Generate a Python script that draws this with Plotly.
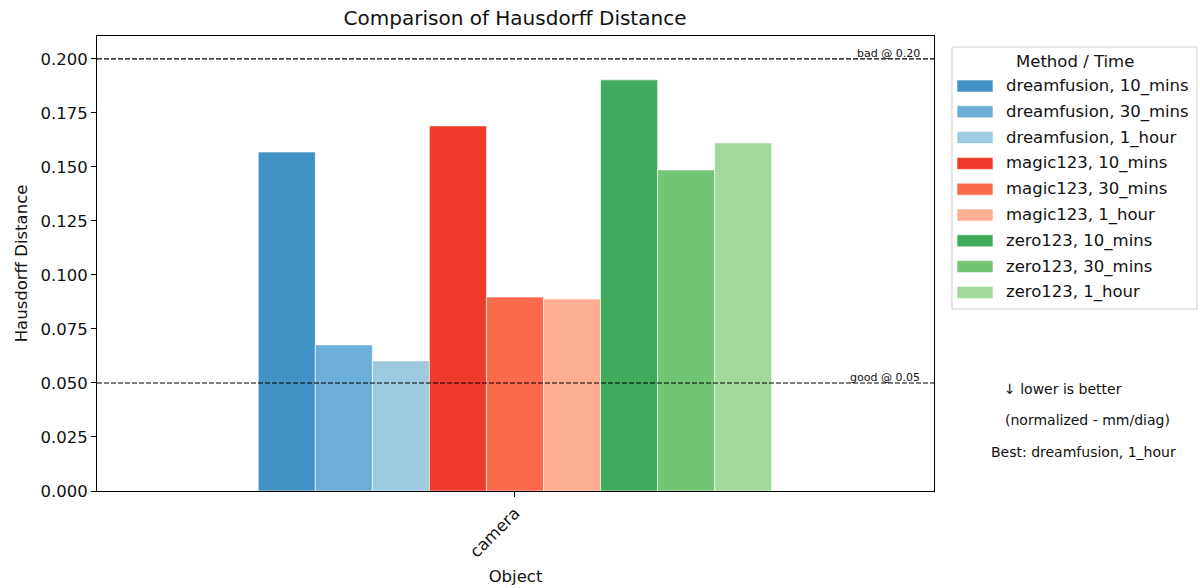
import plotly.graph_objects as go

# Data
objects = ["camera"]
series_names = [
    "dreamfusion, 10_mins", "dreamfusion, 30_mins", "dreamfusion, 1_hour",
    "magic123, 10_mins", "magic123, 30_mins", "magic123, 1_hour",
    "zero123, 10_mins", "zero123, 30_mins", "zero123, 1_hour",
]
hausdorff = [0.1569, 0.0676, 0.0602, 0.1690, 0.0898, 0.0889, 0.1903, 0.1486, 0.1611]
colors = [
    "#4292c6", "#6baed6", "#9ecae1",
    "#ef3b2c", "#fb6a4a", "#fcae91",
    "#41ab5d", "#74c476", "#a1d99b",
]
thresholds = [(0.20, "bad @ 0.20"), (0.05, "good @ 0.05")]
notes = ["↓ lower is better", "(normalized - mm/diag)", "Best: dreamfusion, 1_hour"]

FONT = "DejaVu Sans"
TXT = "#111"
W, H = 1200, 588
L, R, T, B = 97, 266, 36, 97

fig = go.Figure()
for name, val, col in zip(series_names, hausdorff, colors):
    fig.add_trace(go.Bar(
        x=objects, y=[val], name=name,
        marker=dict(color=col, line=dict(color="white", width=0.6)),
        showlegend=False,
    ))


def px_x(px):
    return (px - L) / (W - L - R)


def px_y(py):
    return 1 - (py - T) / (H - T - B)


# Reference lines with small labels
for yv, label in thresholds:
    fig.add_shape(type="line", xref="paper", yref="y", x0=0, x1=1, y0=yv, y1=yv,
                  line=dict(color="black", width=1.2, dash="5px,2px"), layer="above")
    fig.add_annotation(xref="paper", yref="y", x=px_x(922), y=yv,
                       text=label, showarrow=False, xanchor="right", yanchor="bottom",
                       yshift=-3, font=dict(family=FONT, size=11, color=TXT))

# Legend box
fig.add_shape(type="rect", xref="paper", yref="paper",
              x0=px_x(952), x1=px_x(1197), y0=px_y(47), y1=px_y(309),
              line=dict(color="#d0d0d0", width=1), fillcolor="white")
fig.add_annotation(xref="paper", yref="paper", x=px_x(1075), y=px_y(61),
                   text="Method / Time", showarrow=False, xanchor="center", yanchor="middle",
                   font=dict(family=FONT, size=16.5, color=TXT))
row0, step = 86, 25.8
for i, (name, col) in enumerate(zip(series_names, colors)):
    cy = row0 + i * step
    fig.add_shape(type="rect", xref="paper", yref="paper",
                  x0=px_x(957), x1=px_x(993), y0=px_y(cy - 6), y1=px_y(cy + 6),
                  line=dict(color="white", width=0.6), fillcolor=col)
    fig.add_annotation(xref="paper", yref="paper", x=px_x(1004), y=px_y(cy),
                       text=name, showarrow=False, xanchor="left", yanchor="middle",
                       font=dict(family=FONT, size=16.5, color=TXT))

# Side notes
for (cx, cy), txt in zip([(1063, 389), (1087, 420), (1083, 452)], notes):
    fig.add_annotation(xref="paper", yref="paper", x=px_x(cx), y=px_y(cy),
                       text=txt, showarrow=False, xanchor="center", yanchor="middle",
                       font=dict(family=FONT, size=14, color=TXT))

fig.update_layout(
    width=W, height=H,
    margin=dict(l=L, r=R, t=T, b=B, pad=0),
    paper_bgcolor="white", plot_bgcolor="white",
    barmode="group", bargap=0.5, bargroupgap=0,
    font=dict(family=FONT, size=16.5, color=TXT),
    title=dict(text="Comparison of Hausdorff Distance", x=515 / W, xanchor="center",
               y=1 - 18 / H, yanchor="middle", font=dict(family=FONT, size=20, color=TXT)),
    showlegend=False,
)
fig.update_xaxes(
    range=[-0.407, 0.408], showline=True, mirror=True, linecolor="black", linewidth=1,
    ticks="outside", ticklen=5, tickcolor="black", tickangle=-45, showgrid=False,
    automargin=False,
    title=dict(text="Object", font=dict(family=FONT, size=16.5, color=TXT), standoff=10),
    tickfont=dict(family=FONT, size=16.5, color=TXT),
)
fig.update_yaxes(
    range=[0, 0.2106], showline=True, mirror=True, linecolor="black", linewidth=1,
    ticks="outside", ticklen=5, tickcolor="black", showgrid=False, zeroline=False,
    automargin=False,
    tickmode="linear", tick0=0, dtick=0.025, tickformat=".3f",
    title=dict(text="Hausdorff Distance", font=dict(family=FONT, size=16.5, color=TXT), standoff=8),
    tickfont=dict(family=FONT, size=16.5, color=TXT),
)

fig.write_html("out.html")
